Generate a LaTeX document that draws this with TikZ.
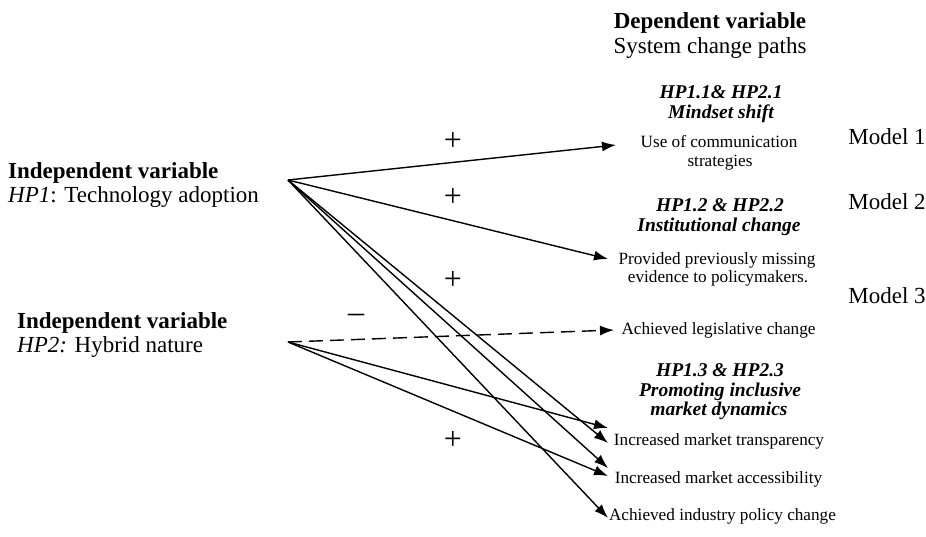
\documentclass[tikz,border=0pt]{standalone}
\usepackage{fontspec}
\setmainfont{Liberation Serif}
\usetikzlibrary{arrows.meta}
\tikzset{
  big/.style={font=\fontsize{23}{25}\selectfont, inner sep=0pt, anchor=base},
  bigl/.style={big, anchor=base west},
  head/.style={font=\fontsize{19.5}{20.5}\selectfont\bfseries\itshape, inner sep=0pt, anchor=base},
  small/.style={font=\fontsize{17.2}{19}\selectfont, inner sep=0pt, anchor=base},
  sign/.style={font=\fontsize{32}{32}\selectfont, inner sep=0pt},
  conn/.style={line width=1.4pt, -{Latex[length=14pt,width=10pt]}},
}
\begin{document}
\begin{tikzpicture}[x=1pt,y=-1pt]
\useasboundingbox (0,0) rectangle (926,536);
% left texts
\node[bigl] (iv1) at (8,178) {\textbf{Independent variable}};
\node[bigl] (hp1) at (8,202) {\textit{HP1}: Technology adoption};
\node[bigl] (iv2) at (17,328) {\textbf{Independent variable}};
\node[bigl] (hp2) at (17,352) {\textit{HP2:} Hybrid nature};
% right column
\node[big] (dv) at (710,28) {\textbf{Dependent variable}};
\node[big] (scp) at (710,53) {System change paths};
\node[head] (h1a) at (721,98) {HP1.1\& HP2.1};
\node[head] (h1b) at (721,118) {Mindset shift};
\node[small] (t1a) at (719,147) {Use of communication};
\node[small] (t1b) at (720,166) {strategies};
\node[head] (h2a) at (720,211) {HP1.2 \& HP2.2};
\node[head] (h2b) at (719,231) {Institutional change};
\node[small] (t2a) at (717,264) {Provided previously missing};
\node[small] (t2b) at (718,282) {evidence to policymakers.};
\node[small] (t3) at (718.5,334) {Achieved legislative change};
\node[head] (h3a) at (720,376) {HP1.3 \& HP2.3};
\node[head] (h3b) at (720,396) {Promoting inclusive};
\node[head] (h3c) at (719,415) {market dynamics};
\node[small] (t4) at (719,445) {Increased market transparency};
\node[small] (t5) at (718.5,483) {Increased market accessibility};
\node[small] (t6) at (722.5,520) {Achieved industry policy change};
\node[big] (m1) at (887,144) {Model 1};
\node[big] (m2) at (887,209) {Model 2};
\node[big] (m3) at (887,303) {Model 3};
% signs
\node[sign] (p1) at (453,141) {+};
\node[sign] (p2) at (453,197) {+};
\node[sign] (p3) at (453,280) {+};
\node[sign] (p4) at (453,440) {+};
\node[sign] (mn) at (356,318) {\textendash};
% connector points
\coordinate (s1) at (288,180);
\coordinate (s2) at (288,342);
\coordinate (e1) at (616,145);
\coordinate (e2) at (608,259);
\coordinate (e3) at (614,330);
\coordinate (e4a) at (608,428);
\coordinate (e4b) at (608,443);
\coordinate (e5a) at (608,468);
\coordinate (e5b) at (608,476);
\coordinate (e6) at (608,518);
\draw[conn] (s1) -- (e1);
\draw[conn] (s1) -- (e2);
\draw[conn] (s1) -- (e4b);
\draw[conn] (s1) -- (e5a);
\draw[conn] (s1) -- (e6);
\draw[conn, dash pattern=on 14pt off 7pt] (s2) -- (e3);
\draw[conn] (s2) -- (e4a);
\draw[conn] (s2) -- (e5b);
\end{tikzpicture}
\end{document}
